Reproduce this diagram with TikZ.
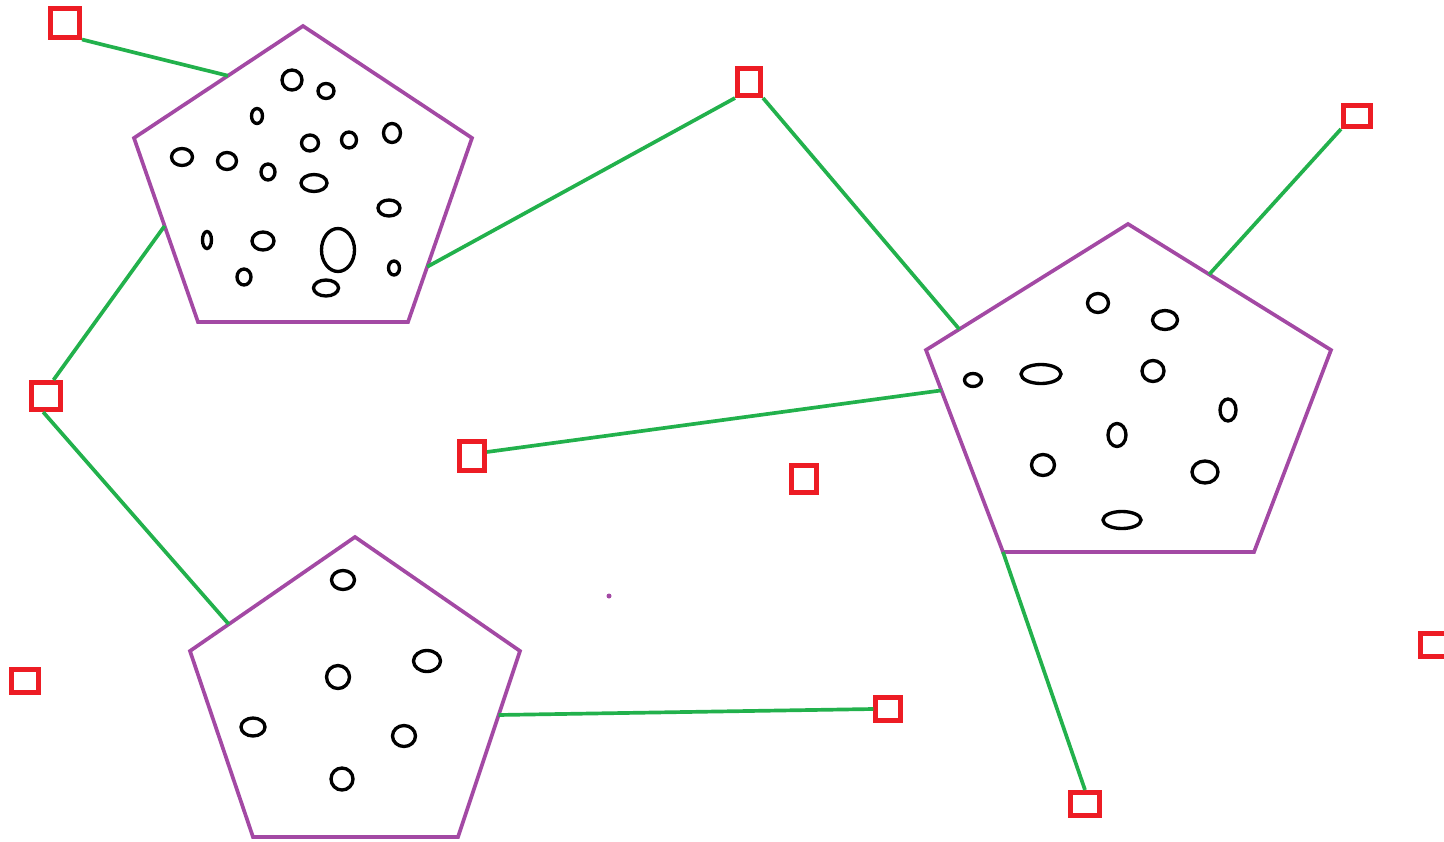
\documentclass[tikz,border=0pt]{standalone}
\usetikzlibrary{calc}
\definecolor{viola}{RGB}{163,73,164}
\definecolor{verde}{RGB}{34,177,76}
\definecolor{rosso}{RGB}{237,28,36}
\begin{document}
\begin{tikzpicture}[x=0.02cm,y=-0.02cm,
    pent/.style={draw=viola,line width=2.1pt},
    buco/.style={draw=black,line width=1.9pt},
    quad/.style 2 args={draw=rosso,line width=2.6pt,inner sep=0pt,
        minimum width=(#1-4.5)*0.02cm,minimum height=(#2-4.5)*0.02cm},
    filo/.style={draw=verde,line width=2.1pt}]
    \useasboundingbox (0,0) rectangle (1444,842);

    % pentagono in alto a sinistra
    \coordinate (a1) at (303,26);
    \coordinate (b1) at (472,138);
    \coordinate (c1) at (408,322);
    \coordinate (d1) at (198,322);
    \coordinate (e1) at (134,138);
    \draw[pent] (a1) -- (b1) -- (c1) -- (d1) -- (e1) -- cycle;
    \foreach \x/\y/\a/\b in {292/80/10/10, 326/91/8/7.5, 257/116/5.5/7.5,
        182/157/10.5/8.5, 227/161/9.5/8.5, 268/172/7/8, 310/143/8.5/8,
        349/140/7.5/8, 392/133/8.5/9.5, 314/183/13/8.5, 389/208/11/8,
        207/240/4.5/8.5, 263/241/11/9, 338/250/16.5/21.5, 244/277/7/8,
        394/268/5.5/7, 326/288/12.5/8}
        \draw[buco] (\x,\y) ellipse [x radius=\a, y radius=\b];

    % pentagono a destra
    \coordinate (a2) at (1128,224);
    \coordinate (b2) at (1331,350);
    \coordinate (c2) at (1254,552);
    \coordinate (d2) at (1003,552);
    \coordinate (e2) at (926,350);
    \draw[pent] (a2) -- (b2) -- (c2) -- (d2) -- (e2) -- cycle;
    \foreach \x/\y/\a/\b in {1098/303/10.5/9.5, 1165/320/12.5/9.5,
        973/380/8.5/6.5, 1041/374/20/9.5, 1153/371/11/10.5, 1228/410/8/11,
        1117/435/9/11.5, 1043/465/11.5/10.5, 1205/472/13/11, 1122/520/19/8.5}
        \draw[buco] (\x,\y) ellipse [x radius=\a, y radius=\b];

    % pentagono in basso
    \coordinate (a3) at (355,537);
    \coordinate (b3) at (520,651);
    \coordinate (c3) at (458,837);
    \coordinate (d3) at (253,837);
    \coordinate (e3) at (190,651);
    \draw[pent] (a3) -- (b3) -- (c3) -- (d3) -- (e3) -- cycle;
    \foreach \x/\y/\a/\b in {343/580/11.5/9.5, 427/661/13.5/10.5,
        338/677/11.5/11.5, 253/727/12/9, 404/736/11.5/10.5, 342/779/11/11}
        \draw[buco] (\x,\y) ellipse [x radius=\a, y radius=\b];

    % punti di attacco sui lati
    \coordinate (p1s1) at ($(e1)!0.556!(a1)$);
    \coordinate (p1s2) at ($(b1)!0.70!(c1)$);
    \coordinate (p1s4) at ($(e1)!0.478!(d1)$);
    \coordinate (p2s2) at ($(e2)!0.165!(a2)$);
    \coordinate (p2s3) at ($(a2)!0.40!(b2)$);
    \coordinate (p2s5) at ($(e2)!0.2!(d2)$);
    \coordinate (p3s4) at ($(e3)!0.235!(a3)$);
    \coordinate (p3s8) at ($(b3)!0.344!(c3)$);

    % quadratini
    \node[quad={34}{33}] (s1) at (65,23) {};
    \node[quad={28}{32}] (s2) at (749,82) {};
    \node[quad={32}{26}] (s3) at (1357,116) {};
    \node[quad={33}{32}] (s4) at (46,396) {};
    \node[quad={30}{33}] (s5) at (472,456) {};
    \node[quad={30}{31}] (s6) at (804,479) {};
    \node[quad={32}{28}] (s7) at (25,681) {};
    \node[quad={29}{28}] (s8) at (888,709) {};
    \node[quad={34}{28}] (s9) at (1085,804) {};
    \node[quad={32}{27}] (s10) at (1434,645) {};

    % fili
    \draw[filo] (s1.south east) -- (p1s1);
    \draw[filo] (p1s2) -- (s2.south west);
    \draw[filo] (s2.south east) -- (p2s2);
    \draw[filo] (s3.south west) -- (p2s3);
    \draw[filo] (p1s4) -- (s4.65);
    \draw[filo] (s4.-100) -- (p3s4);
    \draw[filo] (s5.15) -- (p2s5);
    \draw[filo] (p3s8) -- (s8.west);
    \draw[filo] (d2) -- (s9.north);

    % puntino
    \fill[viola] (609,596) circle (2.5);
\end{tikzpicture}
\end{document}
